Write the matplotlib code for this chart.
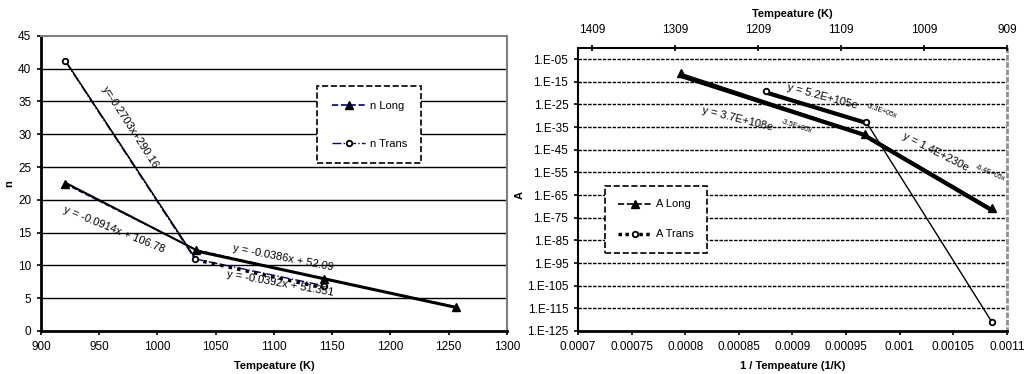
import numpy as np
import matplotlib

matplotlib.use("Agg")
import matplotlib.pyplot as plt
from matplotlib.lines import Line2D
from matplotlib.ticker import FixedLocator, FixedFormatter

plt.rcParams["font.family"] = ["Liberation Sans", "DejaVu Sans"]
plt.rcParams["font.size"] = 8
plt.rcParams["xtick.labelsize"] = 8.5
plt.rcParams["ytick.labelsize"] = 8.5

# --- left chart: n vs temperature ---
temp_long = [921, 1033, 1143, 1256]
n_long = [22.4, 12.4, 7.9, 3.7]
temp_trans = [921, 1032, 1143]
n_trans = [41.1, 11.0, 6.9]

# linear trendlines as labelled on the chart
lin_slopes = [-0.0914, -0.0386, -0.2703, -0.0392]
lin_intercepts = [106.78, 52.09, 290.16, 51.351]
lin_x0 = [921, 1033, 921, 1032]
lin_x1 = [1033, 1256, 1032, 1143]
lin_labels = ["y = -0.0914x + 106.78", "y = -0.0386x + 52.09",
              "y=-0.2703x+290.16", "y = -0.0392x + 51.351"]

# --- right chart: A vs 1/T (log scale) ---
temp_a_long = [1256, 1033, 921]
log_a_long = [-11.3, -38.2, -70.9]
temp_a_trans = [1143, 1032, 921]
log_a_trans = [-19.1, -32.9, -120.9]

# exponential trendlines y = a * exp(b * x)
exp_a = [3.7e108, 5.2e105, 1.4e230]
exp_b = [-3.5e5, -3.3e5, -6.4e5]
exp_t0 = [1256, 1143, 1033]
exp_t1 = [1033, 1032, 921]
exp_main = ["y = 3.7E+108e", "y = 5.2E+105e", "y = 1.4E+230e"]
exp_sup = ["-3.5E+05x", "-3.3E+05x", "-6.4E+05x"]

top_temp_ticks = [1409, 1309, 1209, 1109, 1009, 909]
inv_ticks = [0.0007, 0.00075, 0.0008, 0.00085, 0.0009, 0.00095, 0.001, 0.00105, 0.0011]
inv_labels = ["0.0007", "0.00075", "0.0008", "0.00085", "0.0009", "0.00095",
              "0.001", "0.00105", "0.0011"]
a_tick_exps = list(range(-125, 0, 10))

fig = plt.figure(figsize=(10.26, 3.74), dpi=100)

# ---------------- left ----------------
ax = fig.add_axes([0.040, 0.115, 0.454, 0.789])
ax.set_xlim(900, 1300)
ax.set_ylim(0, 45)
ax.set_xticks(range(900, 1301, 50))
ax.set_yticks(range(0, 46, 5))
for y in range(5, 45, 5):
    ax.axhline(y, color="black", lw=1.0, zorder=1)

ax.plot(temp_long, n_long, color="#000080", ls="--", lw=1.0, zorder=2)
ax.plot(temp_trans, n_trans, color="#000080", ls="-.", lw=1.0, zorder=2)

lin_styles = [dict(lw=1.5, ls="-"), dict(lw=2.2, ls="-"),
              dict(lw=1.1, ls="-"), dict(lw=2.5, ls=(0, (1, 1.5)))]
for k in range(4):
    xs = np.array([lin_x0[k], lin_x1[k]], dtype=float)
    ax.plot(xs, lin_slopes[k] * xs + lin_intercepts[k], color="black", zorder=3,
            **lin_styles[k])

ax.plot(temp_long, n_long, ls="none", marker="^", ms=6, color="black", zorder=4)
ax.plot(temp_trans, n_trans, ls="none", marker="o", ms=4, mfc="white",
        mec="black", mew=1.3, zorder=4)

# trendline labels: (x, y, rotation)
lin_pos = [(963, 15.4, -22), (1108, 11.1, -11), (977, 31.0, -57), (1105, 7.2, -10)]
for k, (tx, ty, rot) in enumerate(lin_pos):
    ax.text(tx, ty, lin_labels[k], rotation=rot, ha="center", va="center",
            rotation_mode="anchor", fontsize=8, zorder=5)

ax.set_xlabel("Tempeature (K)", fontweight="bold", labelpad=6)
ax.set_ylabel("n", fontweight="bold")
ax.yaxis.set_label_coords(-0.058, 0.50)
for s in ("left", "bottom"):
    ax.spines[s].set_linewidth(2)
for s in ("top", "right"):
    ax.spines[s].set_color("#808080")
    ax.spines[s].set_linewidth(1.5)
ax.tick_params(direction="out", length=3, width=1.2, pad=4)

h_long = Line2D([], [], color="#000080", ls="--", lw=1.2, marker="^", ms=6,
                mfc="black", mec="black")
h_trans = Line2D([], [], color="#000080", ls="-.", lw=1.0, marker="o", ms=4,
                 mfc="white", mec="black", mew=1.3)
leg = ax.legend([h_long, h_trans], ["n Long", "n Trans"], loc="center",
                bbox_to_anchor=(0.705, 0.699), fancybox=False, framealpha=1,
                edgecolor="black", handlelength=3.0, labelspacing=2.5,
                borderpad=1.3, handletextpad=0.4, borderaxespad=0, fontsize=8)
leg.get_frame().set_linestyle("--")
leg.get_frame().set_linewidth(1.2)

# ---------------- right ----------------
bx = fig.add_axes([0.5634, 0.115, 0.418, 0.757])
bx.set_yscale("log")
bx.set_xlim(0.0007, 0.0011)
bx.set_ylim(1e-125, 1e0)
bx.yaxis.set_major_locator(FixedLocator([10.0 ** e for e in a_tick_exps]))
bx.yaxis.set_major_formatter(FixedFormatter([f"1.E{e:+03d}" for e in a_tick_exps]))
bx.yaxis.set_minor_locator(FixedLocator([]))
bx.xaxis.set_major_locator(FixedLocator(inv_ticks))
bx.xaxis.set_major_formatter(FixedFormatter(inv_labels))
for e in a_tick_exps[1:]:
    bx.axhline(10.0 ** e, color="black", lw=1.0, ls=(0, (2.5, 1)), zorder=1)

inv_long = 1.0 / np.array(temp_a_long, dtype=float)
inv_trans = 1.0 / np.array(temp_a_trans, dtype=float)
bx.plot(inv_long, 10.0 ** np.array(log_a_long), color="black", lw=1.0, zorder=2)
bx.plot(inv_trans, 10.0 ** np.array(log_a_trans), color="black", lw=1.0, zorder=2)

for k in range(3):
    xs = np.linspace(1.0 / exp_t0[k], 1.0 / exp_t1[k], 20)
    bx.plot(xs, exp_a[k] * np.exp(exp_b[k] * xs), color="black", lw=3.0,
            solid_capstyle="butt", zorder=3)

bx.plot(inv_long, 10.0 ** np.array(log_a_long), ls="none", marker="^", ms=6,
        color="black", zorder=4)
bx.plot(inv_trans, 10.0 ** np.array(log_a_trans), ls="none", marker="o", ms=4,
        mfc="white", mec="black", mew=1.3, zorder=4)

# exponential trendline labels: main text (x, log10 y, rotation)
exp_pos = [(0.0008156, -27.5, -14), (0.000895, -17.4, -15), (0.001003, -38.5, -27)]
# small exponent text centres (x, log10 y, rotation)
exp_sup_pos = [(0.000904, -34.8, -18), (0.000983, -28.0, -20), (0.0010845, -55.2, -24)]
for k, (tx, ty, rot) in enumerate(exp_pos):
    bx.text(tx, 10.0 ** ty, exp_main[k], rotation=rot, ha="left", va="center",
            rotation_mode="anchor", fontsize=8, zorder=5)
    sx, sy, srot = exp_sup_pos[k]
    bx.text(sx, 10.0 ** sy, exp_sup[k], rotation=srot, ha="center", va="center",
            rotation_mode="anchor", fontsize=5, zorder=5)

bx.set_xlabel("1 / Tempeature (1/K)", fontweight="bold", labelpad=6)
bx.set_ylabel("A", fontweight="bold")
bx.yaxis.set_label_coords(-0.125, 0.48)
bx.spines["bottom"].set_linewidth(2)
for s in ("left", "top"):
    bx.spines[s].set_linewidth(1.5)
    bx.spines[s].set_linestyle((0, (2.5, 1)))
bx.spines["right"].set_color("#909090")
bx.spines["right"].set_linewidth(2)
bx.spines["right"].set_linestyle(":")
bx.tick_params(direction="out", length=3, width=1.2, pad=4)

tx2 = bx.twiny()
tx2.set_xlim(1426, 909)
tx2.set_xticks(top_temp_ticks)
tx2.set_xlabel("Tempeature (K)", fontweight="bold", labelpad=5)
tx2.tick_params(direction="inout", length=5, width=1.2, pad=6)
for s in tx2.spines.values():
    s.set_visible(False)

h_along = Line2D([], [], color="black", ls="--", lw=1.2, marker="^", ms=6)
h_atrans = Line2D([], [], color="black", ls=(0, (1, 1)), lw=2.5, marker="o", ms=4,
                  mfc="white", mec="black", mew=1.3)
leg2 = bx.legend([h_along, h_atrans], ["A Long", "A Trans"], loc="center",
                 bbox_to_anchor=(0.182, 0.394), fancybox=False, framealpha=1,
                 edgecolor="black", handlelength=3.0, labelspacing=1.8,
                 borderpad=1.2, handletextpad=0.4, borderaxespad=0, fontsize=8)
leg2.get_frame().set_linestyle("--")
leg2.get_frame().set_linewidth(1.2)

fig.savefig("out.png", dpi=100)
